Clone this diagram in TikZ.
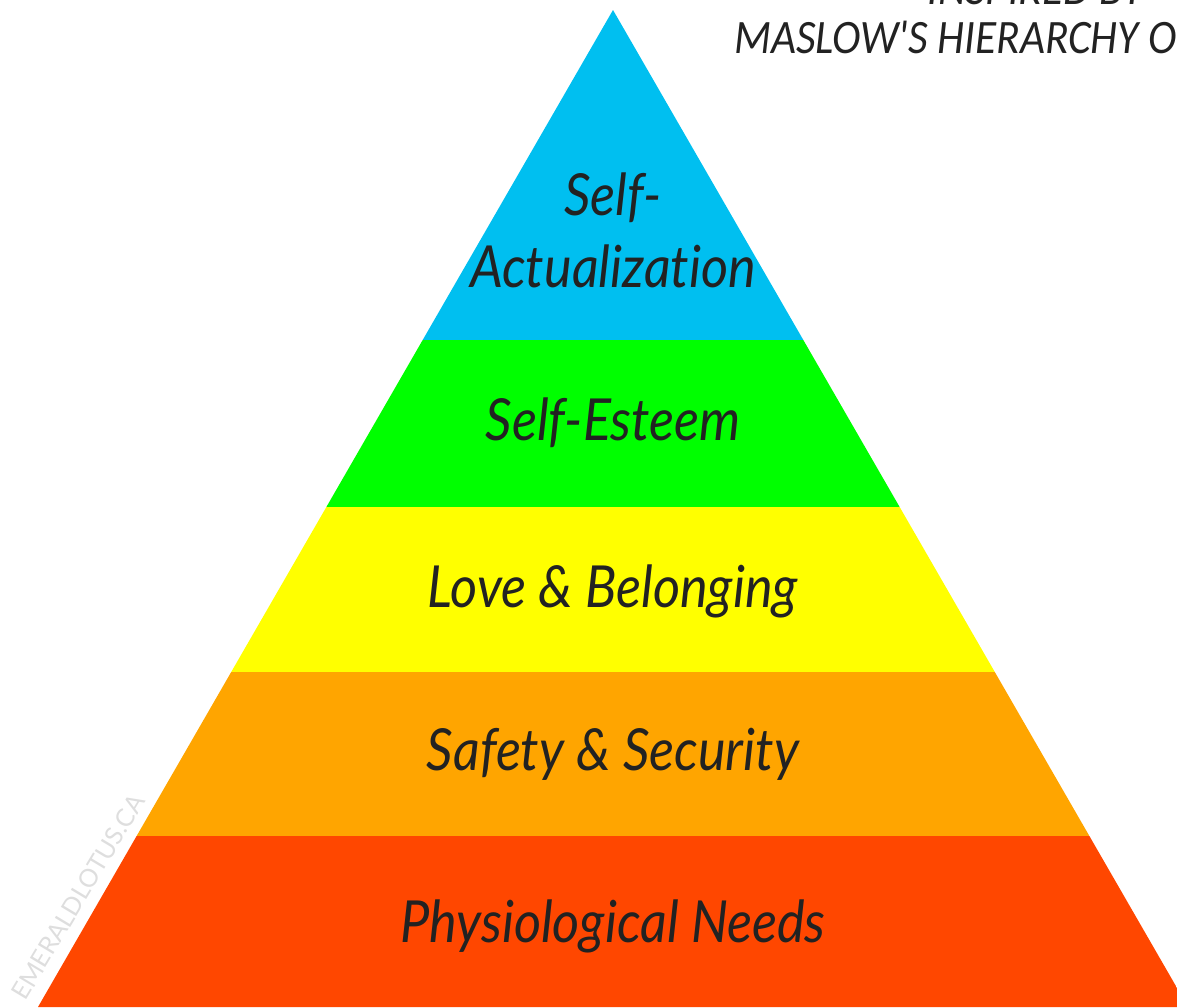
\documentclass[tikz,border=0pt]{standalone}
\usepackage{fontspec}
\setmainfont[Ligatures=NoCommon]{Lato}
\newfontfamily\levelfont[Ligatures=NoCommon,FakeStretch=0.9]{Lato}
\newfontfamily\titlefont[FakeStretch=0.9]{Carlito}
\definecolor{actblue}{RGB}{0,191,240}
\definecolor{esteemgreen}{RGB}{0,255,0}
\definecolor{loveyellow}{RGB}{255,255,0}
\definecolor{safeorange}{RGB}{255,165,0}
\definecolor{needred}{RGB}{255,71,0}
\definecolor{inkgrey}{RGB}{34,34,34}
\definecolor{markgrey}{RGB}{222,222,222}

\begin{document}
\begin{tikzpicture}[x=0.5pt,y=-0.5pt,
  levellabel/.style={font=\levelfont\fontsize{29}{36}\selectfont\itshape, text=inkgrey, align=center, anchor=base, inner sep=0pt},
  titleline/.style={font=\titlefont\fontsize{24}{30}\selectfont\itshape, text=inkgrey, anchor=base west, inner sep=0pt}]
\useasboundingbox (0,0) rectangle (1177,1007);
\clip (0,0) rectangle (1177,1007);

% pyramid, cut into bands
\coordinate (apex) at (613,10);
\coordinate (baseL) at (38,1007);
\coordinate (baseR) at (1188,1007);
\begin{scope}
\clip (apex) -- (baseR) -- (baseL) -- cycle;
\foreach \ytop/\ybot/\col in {0/340/actblue, 340/507/esteemgreen, 507/672/loveyellow, 672/836/safeorange, 836/1010/needred}
  \fill[\col] (0,\ytop) rectangle (1177,\ybot);
\end{scope}

% labels
\node[levellabel] (selfact) at (613,287) {Self-\\Actualization};
\node[levellabel] (esteem) at (613,440) {Self-Esteem};
\node[levellabel] (love) at (613,607) {Love \& Belonging};
\node[levellabel] (safety) at (613,770) {Safety \& Security};
\node[levellabel] (physio) at (613,942) {Physiological Needs};

% title, top right
\node[titleline] (inspired) at (927,4) {INSPIRED BY};
\node[titleline] (maslow) at (734,53) {MASLOW'S HIERARCHY OF NEEDS};

% watermark
\node[font=\fontsize{12.5}{15}\selectfont, text=markgrey, rotate=59, inner sep=0pt] (mark) at (78,897) {EMERALDLOTUS.CA};
\end{tikzpicture}
\end{document}
